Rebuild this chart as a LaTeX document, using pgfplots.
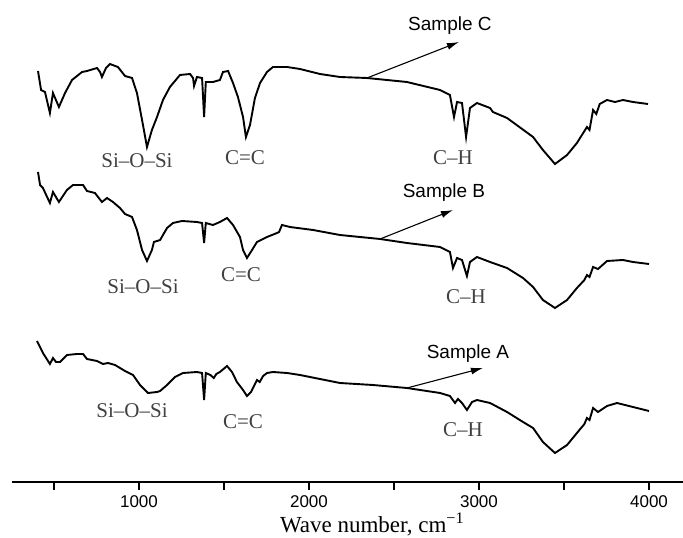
\documentclass[border=0pt]{standalone}
\usepackage{fontspec}
\setmainfont{Liberation Serif}
\setsansfont{Liberation Sans}
\usepackage{pgfplots}
\pgfplotsset{compat=1.18}
\usetikzlibrary{arrows.meta}

% one pt of the picture is one pixel of the reference
\pgfplotstableread{
w y
406 411
424 392
447 390
476 369
494 389
529 375
565 389
606 402
665 410
694 411
753 414
771 410
782 405
806 414
829 418
876 415
918 406
959 404
988 389
1018 362
1047 335
1076 352
1106 365
1141 382
1182 395
1241 407
1300 408
1318 404
1324 396
1341 405
1371 404
1383 365
1393 400
1435 400
1476 402
1494 410
1524 411
1553 399
1582 385
1612 365
1629 345
1653 357
1682 384
1712 399
1753 410
1788 415
1871 415
1947 413
2065 408
2182 405
2341 404
2576 400
2771 392
2829 387
2853 365
2871 380
2900 379
2924 345
2947 374
2988 379
3065 374
3082 370
3165 364
3318 345
3376 332
3447 318
3518 327
3576 339
3635 355
3650 352
3671 372
3690 368
3710 378
3753 382
3800 380
3847 382
3906 380
3994 378
}\sampleC

\pgfplotstableread{
w y
406 310
418 297
435 294
476 279
494 290
529 280
576 292
612 297
671 297
694 291
741 289
782 280
812 284
847 280
888 274
918 268
959 265
988 252
1018 232
1047 221
1076 232
1088 240
1124 242
1165 254
1200 259
1253 261
1341 260
1371 259
1383 239
1393 259
1435 257
1476 260
1518 264
1553 257
1594 245
1612 232
1635 224
1665 232
1694 240
1753 245
1812 249
1824 250
1841 257
1888 255
2024 252
2182 247
2300 245
2418 243
2576 239
2771 235
2829 230
2847 214
2871 224
2900 222
2929 206
2947 220
2988 225
3065 220
3165 214
3259 204
3318 195
3376 182
3447 174
3518 182
3576 194
3620 202
3635 207
3650 205
3671 215
3700 213
3753 221
3847 222
3906 220
4000 218
}\sampleB

\pgfplotstableread{
w y
400 141
418 135
435 129
476 118
494 124
512 120
535 120
576 127
635 128
671 128
694 123
753 121
788 118
818 119
859 117
918 111
965 107
1006 97
1053 89
1106 90
1124 91
1165 97
1212 105
1259 109
1341 110
1371 109
1383 82
1393 109
1420 107
1440 104
1455 108
1476 110
1518 116
1547 110
1576 100
1612 92
1635 86
1659 90
1694 102
1710 100
1730 106
1753 109
1788 110
1871 109
1947 107
2065 103
2182 99
2376 97
2576 94
2771 89
2829 86
2859 79
2876 83
2900 79
2929 72
2959 80
2988 82
3065 79
3165 70
3259 60
3318 54
3376 40
3447 29
3518 37
3576 49
3620 58
3635 64
3650 62
3671 74
3700 70
3753 76
3812 79
3906 75
4000 71
}\sampleA

\begin{document}
\begin{tikzpicture}
\useasboundingbox (-12pt,-56pt) rectangle (671pt,482pt);
\begin{axis}[
    at={(0,0)}, anchor=south west,
    scale only axis, width=671pt, height=482pt,
    xmin=253, xmax=4200, ymin=0, ymax=482,
    clip=false,
    axis x line=bottom, axis y line=none,
    x axis line style={-, line width=1.6pt},
    xtick={1000,2000,3000,4000},
    xticklabels={\textsf{1000},\textsf{2000},\textsf{3000},\textsf{4000}},
    minor xtick={500,1500,2500,3500},
    tick align=outside,
    major tick length=8pt, minor tick length=8pt,
    tick style={black, line width=1.6pt},
    xticklabel style={font=\sffamily\fontsize{17}{17}\selectfont, yshift=-2pt},
]
\addplot[black, line width=1.9pt] table[x=w, y=y] {\sampleC};
\addplot[black, line width=1.9pt] table[x=w, y=y] {\sampleB};
\addplot[black, line width=1.9pt] table[x=w, y=y] {\sampleA};

% arrows to the sample names
\draw[line width=1.1pt, -{Latex[length=12pt,width=7pt]}] (axis cs:2341,404) -- (axis cs:2882,440);
\draw[line width=1.1pt, -{Latex[length=12pt,width=7pt]}] (axis cs:2418,243) -- (axis cs:2847,272);
\draw[line width=1.1pt, -{Latex[length=12pt,width=7pt]}] (axis cs:2576,94) -- (axis cs:3023,114);

\begin{scope}[every node/.style={font=\sffamily\fontsize{19}{19}\selectfont}]
\node at (axis cs:2829,456) {Sample C};
\node at (axis cs:2794,289) {Sample B};
\node at (axis cs:2935,128) {Sample A};
\end{scope}

\begin{scope}[every node/.style={text=black!75, font=\fontsize{21}{21}\selectfont}]
\node at (axis cs:988,321) {Si–O–Si};
\node at (axis cs:1624,324) {C=C};
\node at (axis cs:2847,324) {C–H};
\node at (axis cs:1024,195) {Si–O–Si};
\node at (axis cs:1600,207) {C=C};
\node at (axis cs:2923,185) {C–H};
\node at (axis cs:959,71) {Si–O–Si};
\node at (axis cs:1612,60) {C=C};
\node at (axis cs:2906,52) {C–H};
\end{scope}

\node[font=\fontsize{23}{23}\selectfont, inner sep=0pt] at (axis cs:2371,-42) {Wave number, cm\textsuperscript{−1}};
\end{axis}
\end{tikzpicture}
\end{document}
